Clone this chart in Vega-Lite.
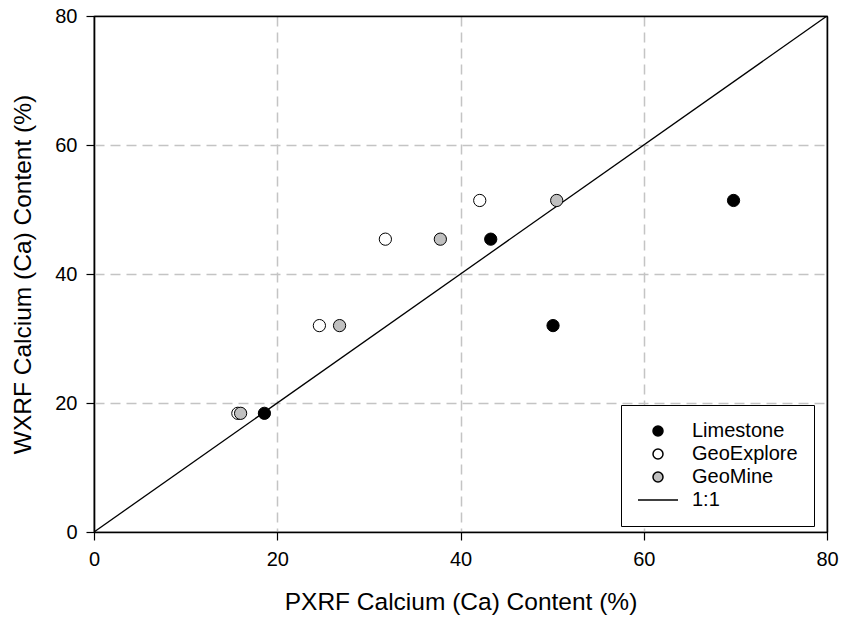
{
  "$schema": "https://vega.github.io/schema/vega-lite/v6.json",
  "width": 733,
  "height": 516,
  "autosize": {"type": "none"},
  "padding": {"left": 94, "top": 16, "right": 14, "bottom": 87},
  "background": "white",
  "config": {
    "font": "Liberation Sans",
    "view": {"stroke": "black", "strokeWidth": 1.2},
    "axis": {
      "domainColor": "black",
      "domainWidth": 1.2,
      "tickColor": "black",
      "tickWidth": 1.2,
      "tickSize": 8,
      "labelFontSize": 20,
      "labelColor": "black",
      "labelPadding": 9,
      "labelFlush": false,
      "titleFontSize": 24.5,
      "titleFontWeight": "normal",
      "titleColor": "black",
      "gridWidth": 1.5
    },
    "legend": {
      "orient": "none",
      "legendX": 527,
      "legendY": 389,
      "strokeColor": "black",
      "fillColor": "white",
      "padding": 16,
      "labelFontSize": 20,
      "labelColor": "black",
      "labelOffset": 24,
      "symbolOffset": 11,
      "rowPadding": 3,
      "symbolOpacity": 1
    }
  },
  "layer": [
    {
      "data": {"values": [{"px": 0, "wx": 0}, {"px": 80, "wx": 80}]},
      "mark": {"type": "line", "color": "black", "strokeWidth": 1.3, "clip": true},
      "encoding": {
        "x": {"field": "px", "type": "quantitative", "scale": {"domain": [0, 80], "nice": false},
              "axis": {"title": "PXRF Calcium (Ca) Content (%)", "titlePadding": 21, "grid": true,
                       "values": [0, 20, 40, 60, 80],
                       "gridColor": {"condition": {"test": "datum.value == 0 || datum.value == 80", "value": "black"}, "value": "#c4c4c4"},
                       "gridDash": {"condition": {"test": "datum.value == 0 || datum.value == 80", "value": []}, "value": [10, 6]}}},
        "y": {"field": "wx", "type": "quantitative", "scale": {"domain": [0, 80], "nice": false},
              "axis": {"title": "WXRF Calcium (Ca) Content (%)", "titlePadding": 19, "grid": true,
                       "values": [0, 20, 40, 60, 80],
                       "gridColor": {"condition": {"test": "datum.value == 0 || datum.value == 80", "value": "black"}, "value": "#c4c4c4"},
                       "gridDash": {"condition": {"test": "datum.value == 0 || datum.value == 80", "value": []}, "value": [10, 6]}}}
      }
    },
    {
      "data": {"values": [
        {"series": "Limestone", "px": 18.6, "wx": 18.4},
        {"series": "Limestone", "px": 43.3, "wx": 45.4},
        {"series": "Limestone", "px": 50.1, "wx": 32.0},
        {"series": "Limestone", "px": 69.8, "wx": 51.4},
        {"series": "GeoExplore", "px": 15.7, "wx": 18.4},
        {"series": "GeoExplore", "px": 24.6, "wx": 32.0},
        {"series": "GeoExplore", "px": 31.8, "wx": 45.4},
        {"series": "GeoExplore", "px": 42.1, "wx": 51.4},
        {"series": "GeoMine", "px": 16.0, "wx": 18.4},
        {"series": "GeoMine", "px": 26.8, "wx": 32.0},
        {"series": "GeoMine", "px": 37.8, "wx": 45.4},
        {"series": "GeoMine", "px": 50.5, "wx": 51.4}
      ]},
      "mark": {"type": "point", "filled": true, "size": 150, "stroke": "black", "strokeWidth": 1, "opacity": 1},
      "encoding": {
        "x": {"field": "px", "type": "quantitative"},
        "y": {"field": "wx", "type": "quantitative"},
        "fill": {"field": "series", "type": "nominal", "title": null,
                 "scale": {"domain": ["Limestone", "GeoExplore", "GeoMine", "1:1"], "range": ["black", "white", "#c0c0c0", "black"]},
                 "legend": {"encode": {"symbols": {"update": {"stroke": {"value": "black"}, "strokeWidth": {"value": 1}, "opacity": {"value": 1}}}}}},
        "shape": {"field": "series", "type": "nominal", "title": null,
                  "scale": {"domain": ["Limestone", "GeoExplore", "GeoMine", "1:1"], "range": ["circle", "circle", "circle", "M-4,0H4"]}}
      }
    }
  ]
}
